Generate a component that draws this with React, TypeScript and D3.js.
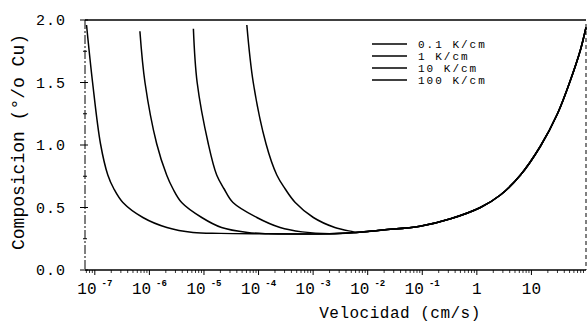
import * as d3 from 'd3'

// values
const seriesNames = ['0.1 K/cm', '1 K/cm', '10 K/cm', '100 K/cm']

const vel01 = [7.05e-8, 9.1e-8, 1.27e-7, 1.73e-7, 2.23e-7, 3.27e-7, 7.6e-7, 2.09e-6, 6.3e-6, 2e-5]
const comp01 = [1.96, 1.5, 1.01, 0.76, 0.65, 0.54, 0.42, 0.34, 0.3, 0.293]

const vel1 = [6.7e-7, 8.3e-7, 1.36e-6, 2.07e-6, 2.7e-6, 3.9e-6, 9.1e-6, 2.1e-5, 6.3e-5]
const comp1 = [1.91, 1.5, 1.01, 0.76, 0.65, 0.54, 0.42, 0.34, 0.3]

const vel10 = [6.4e-6, 7.5e-6, 1.2e-5, 1.71e-5, 2.33e-5, 3.4e-5, 9.3e-5, 2.48e-4, 6.3e-4]
const comp10 = [1.93, 1.5, 1.01, 0.76, 0.65, 0.54, 0.42, 0.34, 0.305]

const vel100 = [6.1e-5, 8.0e-5, 1.37e-4, 2.16e-4, 3.06e-4, 4.7e-4, 1.01e-3, 2.5e-3, 5.5e-3]
const comp100 = [1.96, 1.5, 1.01, 0.76, 0.65, 0.54, 0.42, 0.34, 0.305]

// shared floor and high-velocity branch
const velCommon = [1.5e-4, 6e-4, 2e-3, 6e-3, 1.9e-2, 9.1e-2, 0.33, 1.16, 2.7, 6.3, 14.6, 30, 52, 79, 100]
const compCommon = [0.29, 0.288, 0.29, 0.3, 0.32, 0.35, 0.41, 0.5, 0.6, 0.76, 0.99, 1.25, 1.52, 1.76, 1.94]

const yTicks = [0, 0.5, 1.0, 1.5, 2.0]
const yMinor = [0.25, 0.75, 1.25, 1.75]
const decades = [-7, -6, -5, -4, -3, -2, -1, 0, 1]

const W = 588
const H = 326
const font = '"Liberation Mono", monospace'

export default function App() {
  const x = d3.scaleLog().domain([Math.pow(10, -7.18), 100]).range([85, 586])
  const y = d3.scaleLinear().domain([0, 2]).range([270, 20])

  const own = [
    [vel01, comp01],
    [vel1, comp1],
    [vel10, comp10],
    [vel100, comp100],
  ]
  const curves = own.map(([vs, cs]) => {
    const pts: [number, number][] = vs.map((v, i) => [v, cs[i]])
    const last = vs[vs.length - 1]
    velCommon.forEach((v, i) => {
      if (v > last) pts.push([v, compCommon[i]])
    })
    return pts
  })

  const line = d3
    .line<[number, number]>()
    .x(d => x(d[0]))
    .y(d => y(d[1]))
    .curve(d3.curveCatmullRom.alpha(0.5))

  const minorX: number[] = []
  for (let e = -8; e <= 1; e++) {
    for (let k = 2; k <= 9; k++) {
      const v = k * Math.pow(10, e)
      if (v >= x.domain()[0] && v <= 100) minorX.push(v)
    }
  }

  return (
    <svg width={W} height={H} style={{ position: 'absolute', left: 0, top: 0, background: '#fff' }}>
      {/* frame */}
      <line x1={85} x2={586} y1={20} y2={20} stroke="#000" strokeWidth={1.6} />
      <line x1={85} x2={586} y1={270} y2={270} stroke="#000" strokeWidth={1.6} />
      <line x1={85} x2={85} y1={20} y2={270} stroke="#000" strokeWidth={1} strokeDasharray="9,2,2,2" />
      <line x1={586} x2={586} y1={24} y2={270} stroke="#000" strokeWidth={1} strokeDasharray="4,3" />

      {/* y ticks */}
      {yTicks.map(t => (
        <g key={t}>
          <line x1={80} x2={88} y1={y(t)} y2={y(t)} stroke="#000" strokeWidth={1} />
          <text x={66} y={y(t) + 5} textAnchor="end" fontFamily={font} fontSize={15} letterSpacing={1}>
            {t.toFixed(1)}
          </text>
        </g>
      ))}
      {yMinor.map(t => (
        <line key={t} x1={83} x2={87} y1={y(t)} y2={y(t)} stroke="#000" strokeWidth={1} />
      ))}

      {/* x ticks */}
      {minorX.map((v, i) => (
        <line key={i} x1={x(v)} x2={x(v)} y1={270} y2={273} stroke="#000" strokeWidth={0.8} />
      ))}
      {decades.map(e => (
        <line key={e} x1={x(Math.pow(10, e))} x2={x(Math.pow(10, e))} y1={270} y2={275} stroke="#000" strokeWidth={1} />
      ))}
      {decades.map(e => {
        const cx = x(Math.pow(10, e))
        if (e >= 0) {
          return (
            <text key={e} x={cx} y={294} textAnchor="middle" fontFamily={font} fontSize={16}>
              {e === 0 ? '1' : '10'}
            </text>
          )
        }
        return (
          <text key={e} x={cx} y={294} textAnchor="middle" fontFamily={font} fontSize={16}>
            10
            <tspan dx={5} dy={-8} fontSize={9} fontWeight="bold">
              {`-${Math.abs(e)}`}
            </tspan>
          </text>
        )
      })}

      {/* curves */}
      {curves.map((pts, i) => (
        <path key={i} d={line(pts) || ''} fill="none" stroke="#000" strokeWidth={1.5} />
      ))}

      {/* legend */}
      {seriesNames.map((s, i) => (
        <g key={s}>
          <line x1={372} x2={407} y1={44 + i * 12} y2={44 + i * 12} stroke="#000" strokeWidth={1.5} />
          <text x={418} y={47.5 + i * 12} fontFamily={font} fontSize={11} letterSpacing={2}>
            {s}
          </text>
        </g>
      ))}

      {/* axis titles */}
      <text x={400} y={318} textAnchor="middle" fontFamily={font} fontSize={16} letterSpacing={0.5}>
        Velocidad (cm/s)
      </text>
      <text transform="translate(24,142) rotate(-90)" textAnchor="middle" fontFamily={font} fontSize={18}>
        Composicion (°/o Cu)
      </text>
    </svg>
  )
}
